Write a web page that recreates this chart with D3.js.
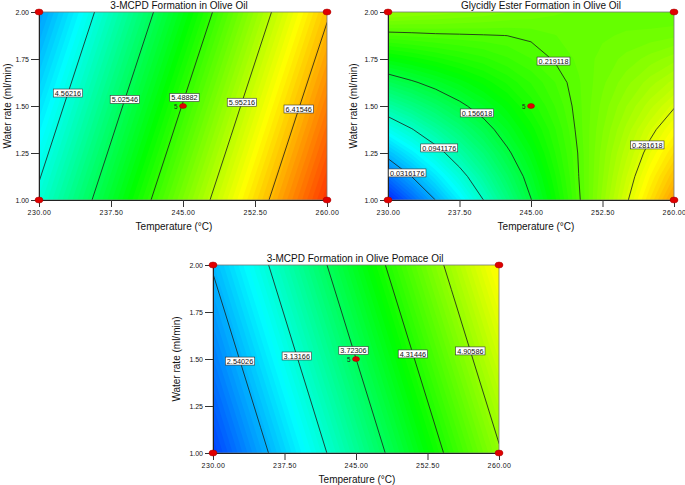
<!DOCTYPE html>
<html><head><meta charset="utf-8">
<script src="https://cdn.jsdelivr.net/npm/d3@7"></script>
<style>
body{margin:0;background:#fff;}
svg{display:block;font-family:"Liberation Sans",Arial,Helvetica,sans-serif;}
</style>
</head><body>
<svg id="chart" width="685" height="485"></svg>
<script>
// ---------- shared axis data ----------
const temperatureTicks = [230, 237.5, 245, 252.5, 260];
const waterTicks = [1.00, 1.25, 1.50, 1.75, 2.00];

// ---------- Panel 1: 3-MCPD Formation in Olive Oil ----------
const oliveMcpdTitle = "3-MCPD Formation in Olive Oil";
const oliveMcpdTemps = [230, 235, 240, 245, 250, 255, 260];
const oliveMcpdWater = [1.00, 1.25, 1.50, 1.75, 2.00];
const oliveMcpdValues = [
  [4.609, 4.986, 5.363, 5.740, 6.117, 6.494, 6.871],
  [4.488, 4.865, 5.242, 5.619, 5.996, 6.373, 6.750],
  [4.368, 4.745, 5.122, 5.499, 5.876, 6.253, 6.630],
  [4.247, 4.624, 5.001, 5.378, 5.755, 6.132, 6.509],
  [4.126, 4.503, 4.880, 5.257, 5.634, 6.011, 6.388]
];
const oliveMcpdLevels = [4.56216, 5.02546, 5.48882, 5.95216, 6.41546];
const oliveMcpdLevelLabels = ["4.56216", "5.02546", "5.48882", "5.95216", "6.41546"];

// ---------- Panel 2: Glycidly Ester Formation in Olive Oil ----------
const oliveGeTitle = "Glycidly Ester Formation in Olive Oil";
const oliveGeTemps = [230, 232.5, 235, 237.5, 240, 242.5, 245, 247.5, 250, 252.5, 255, 257.5, 260];
const oliveGeWater = [1.000, 1.125, 1.250, 1.375, 1.500, 1.625, 1.750, 1.875, 2.000];
const oliveGeValues = [
  [-0.029, 0.001, 0.032, 0.063, 0.094, 0.125, 0.156, 0.186, 0.217, 0.248, 0.279, 0.310, 0.341],
  [ 0.005, 0.032, 0.059, 0.085, 0.112, 0.139, 0.165, 0.192, 0.219, 0.245, 0.272, 0.299, 0.325],
  [ 0.040, 0.063, 0.085, 0.108, 0.130, 0.153, 0.175, 0.198, 0.220, 0.243, 0.265, 0.288, 0.310],
  [ 0.075, 0.093, 0.112, 0.130, 0.148, 0.167, 0.185, 0.203, 0.222, 0.240, 0.258, 0.277, 0.295],
  [ 0.110, 0.124, 0.138, 0.152, 0.166, 0.180, 0.195, 0.209, 0.223, 0.237, 0.251, 0.265, 0.280],
  [ 0.144, 0.154, 0.164, 0.174, 0.184, 0.194, 0.204, 0.214, 0.224, 0.234, 0.244, 0.254, 0.264],
  [ 0.179, 0.185, 0.191, 0.197, 0.202, 0.208, 0.214, 0.220, 0.226, 0.232, 0.237, 0.243, 0.249],
  [ 0.214, 0.2155, 0.217, 0.2178, 0.2185, 0.2192, 0.221, 0.2245, 0.2275, 0.229, 0.231, 0.232, 0.234],
  [ 0.249, 0.246, 0.244, 0.241, 0.239, 0.236, 0.234, 0.231, 0.229, 0.228, 0.226, 0.225, 0.224]
];
const oliveGeLevels = [0.0316176, 0.0941176, 0.156618, 0.219118, 0.281618];
const oliveGeLevelLabels = ["0.0316176", "0.0941176", "0.156618", "0.219118", "0.281618"];

// ---------- Panel 3: 3-MCPD Formation in Olive Pomace Oil ----------
const pomaceMcpdTitle = "3-MCPD Formation in Olive Pomace Oil";
const pomaceMcpdTemps = [230, 235, 240, 245, 250, 255, 260];
const pomaceMcpdWater = [1.00, 1.25, 1.50, 1.75, 2.00];
const pomaceMcpdValues = [
  [1.978, 2.461, 2.944, 3.427, 3.910, 4.393, 4.876],
  [2.125, 2.608, 3.091, 3.574, 4.057, 4.540, 5.023],
  [2.273, 2.756, 3.239, 3.722, 4.205, 4.688, 5.171],
  [2.420, 2.903, 3.386, 3.869, 4.352, 4.835, 5.318],
  [2.568, 3.051, 3.534, 4.017, 4.500, 4.983, 5.466]
];
const pomaceMcpdLevels = [2.54026, 3.13166, 3.72306, 4.31446, 4.90586];
const pomaceMcpdLevelLabels = ["2.54026", "3.13166", "3.72306", "4.31446", "4.90586"];

// ---------- layout (positions & styles) ----------
const panels = [
  { title: oliveMcpdTitle, temps: oliveMcpdTemps, water: oliveMcpdWater, values: oliveMcpdValues,
    levels: oliveMcpdLevels, labels: oliveMcpdLevelLabels,
    left: 39, right: 327, top: 12, bottom: 200, colorDomain: [3.6, 7.05],
    labelW: [1.569, 1.535, 1.545, 1.52, 1.484],
    titleX: 179, xTitleX: 174, yTitleX: 11 },
  { title: oliveGeTitle, temps: oliveGeTemps, water: oliveGeWater, values: oliveGeValues,
    levels: oliveGeLevels, labels: oliveGeLevelLabels,
    left: 388, right: 674, top: 12, bottom: 200, colorDomain: [-0.045, 0.41],
    labelW: [1.144, 1.277, 1.463, 1.739, 1.293],
    titleX: 541, xTitleX: 536, yTitleX: 357 },
  { title: pomaceMcpdTitle, temps: pomaceMcpdTemps, water: pomaceMcpdWater, values: pomaceMcpdValues,
    levels: pomaceMcpdLevels, labels: pomaceMcpdLevelLabels,
    left: 213, right: 499, top: 265, bottom: 453, colorDomain: [1.66, 6.68],
    labelW: [1.489, 1.516, 1.545, 1.527, 1.543],
    titleX: 355, xTitleX: 357, yTitleX: 180 }
];

const svg = d3.select("#chart");
const cmap = d3.scaleLinear()
  .domain([0, 0.25, 0.5, 0.75, 1])
  .range(["#0000ff", "#00ffff", "#00ff00", "#ffff00", "#ff0000"])
  .clamp(true);

panels.forEach((p, idx) => {
  const g = svg.append("g");
  const x = d3.scaleLinear().domain([230, 260]).range([p.left, p.right]);
  const y = d3.scaleLinear().domain([1, 2]).range([p.bottom, p.top]);
  const nx = p.temps.length, ny = p.water.length;
  const flat = p.values.flat();
  const dT = p.temps[1] - p.temps[0], dW = p.water[1] - p.water[0];
  const proj = d3.geoTransform({
    point(cx, cy) {
      this.stream.point(x(p.temps[0] + (cx - 0.5) * dT), y(p.water[0] + (cy - 0.5) * dW));
    }
  });
  const path = d3.geoPath(proj);
  const clipId = "clip" + idx;
  svg.append("clipPath").attr("id", clipId).append("rect")
    .attr("x", p.left).attr("y", p.top)
    .attr("width", p.right - p.left).attr("height", p.bottom - p.top);

  const [vmin, vmax] = d3.extent(flat);
  const N = 70;
  const step = (vmax - vmin) / N;
  const th = d3.range(N).map(i => vmin + step * i);
  const color = v => cmap((v - p.colorDomain[0]) / (p.colorDomain[1] - p.colorDomain[0]));
  const bands = d3.contours().size([nx, ny]).thresholds(th)(flat);
  const fillG = g.append("g").attr("clip-path", `url(#${clipId})`);
  fillG.selectAll("path").data(bands).join("path")
    .attr("d", path)
    .attr("fill", d => color(d.value + step / 2));

  const lines = d3.contours().size([nx, ny]).thresholds(p.levels)(flat);
  fillG.append("g").selectAll("path").data(lines).join("path")
    .attr("d", path)
    .attr("fill", "none")
    .attr("stroke", "#1a1a1a")
    .attr("stroke-width", 0.8);

  // frame
  g.append("rect")
    .attr("x", p.left).attr("y", p.top)
    .attr("width", p.right - p.left).attr("height", p.bottom - p.top)
    .attr("fill", "none").attr("stroke", "#777").attr("stroke-width", 0.8);

  // axes
  const ax = g.append("g").attr("transform", `translate(0,${p.bottom})`)
    .call(d3.axisBottom(x).tickValues(temperatureTicks).tickFormat(d3.format(".2f"))
      .tickSize(7).tickSizeOuter(0).tickPadding(3));
  const ay = g.append("g").attr("transform", `translate(${p.left},0)`)
    .call(d3.axisLeft(y).tickValues(waterTicks).tickFormat(d3.format(".2f"))
      .tickSize(8).tickSizeOuter(0).tickPadding(2));
  [ax, ay].forEach(a => {
    a.select(".domain").attr("stroke", "#222");
    a.selectAll(".tick line").attr("stroke", "#333");
    a.selectAll(".tick text").attr("font-size", 7).attr("fill", "#111")
      .attr("font-family", '"Liberation Sans",Arial,sans-serif');
  });
  ax.selectAll(".tick text").attr("letter-spacing", 0.4);

  // titles
  g.append("text").attr("x", p.titleX).attr("y", p.top - 3.5)
    .attr("text-anchor", "middle").attr("font-size", 10).attr("fill", "#111").text(p.title);
  g.append("text").attr("x", p.xTitleX).attr("y", p.bottom + 30)
    .attr("text-anchor", "middle").attr("font-size", 10).attr("fill", "#111").text("Temperature (°C)");
  g.append("text")
    .attr("transform", `translate(${p.yTitleX},${(p.top + p.bottom) / 2}) rotate(-90)`)
    .attr("text-anchor", "middle").attr("font-size", 10).attr("fill", "#111").text("Water rate (ml/min)");

  // contour labels
  function valueAt(T, W) {
    const fi = (T - p.temps[0]) / dT, fj = (W - p.water[0]) / dW;
    const i = Math.min(Math.max(Math.floor(fi), 0), nx - 2);
    const j = Math.min(Math.max(Math.floor(fj), 0), ny - 2);
    const u = fi - i, v = fj - j;
    const V = p.values;
    return (1 - u) * (1 - v) * V[j][i] + u * (1 - v) * V[j][i + 1] +
           (1 - u) * v * V[j + 1][i] + u * v * V[j + 1][i + 1];
  }
  function solveT(level, W) {
    let prevT = 230, prev = valueAt(230, W) - level;
    for (let T = 230.25; T <= 260.001; T += 0.25) {
      const cur = valueAt(T, W) - level;
      if (prev === 0) return prevT;
      if (prev * cur <= 0) {
        let a = prevT, b = T, fa = prev;
        for (let k = 0; k < 30; k++) {
          const m = (a + b) / 2, fm = valueAt(m, W) - level;
          if (fa * fm <= 0) { b = m; } else { a = m; fa = fm; }
        }
        return (a + b) / 2;
      }
      prevT = T; prev = cur;
    }
    return 245;
  }

  const labG = g.append("g");
  p.levels.forEach((lv, k) => {
    const W = p.labelW[k];
    const T = solveT(lv, W);
    const cx = x(T), cy = y(W);
    const lg = labG.append("g");
    const rect = lg.append("rect").attr("fill", "#fff").attr("stroke", "#333").attr("stroke-width", 0.6);
    const t = lg.append("text").attr("x", cx).attr("y", cy + 2.6)
      .attr("text-anchor", "middle").attr("font-size", 7.3).attr("fill", "#111").text(p.labels[k]);
    const w = t.node().getComputedTextLength() + 3;
    rect.attr("x", cx - w / 2).attr("y", cy - 4).attr("width", w).attr("height", 8);
  });

  // design points
  g.append("text").attr("x", x(245) - 5.5).attr("y", y(1.5) + 3.2)
    .attr("text-anchor", "end").attr("font-size", 6.5).attr("fill", "#222").text("5");
  const corners = [[230, 1], [230, 2], [260, 1], [260, 2]];
  g.selectAll("ellipse.corner").data(corners).join("ellipse").attr("class", "corner")
    .attr("cx", d => x(d[0])).attr("cy", d => y(d[1]))
    .attr("rx", 4).attr("ry", 3).attr("fill", "#e00000").attr("stroke", "#a00000").attr("stroke-width", 0.5);
  g.append("ellipse").attr("cx", x(245)).attr("cy", y(1.5)).attr("rx", 3.5).attr("ry", 2.5)
    .attr("fill", "#e00000").attr("stroke", "#a00000").attr("stroke-width", 0.5);
});
</script>
</body></html>
